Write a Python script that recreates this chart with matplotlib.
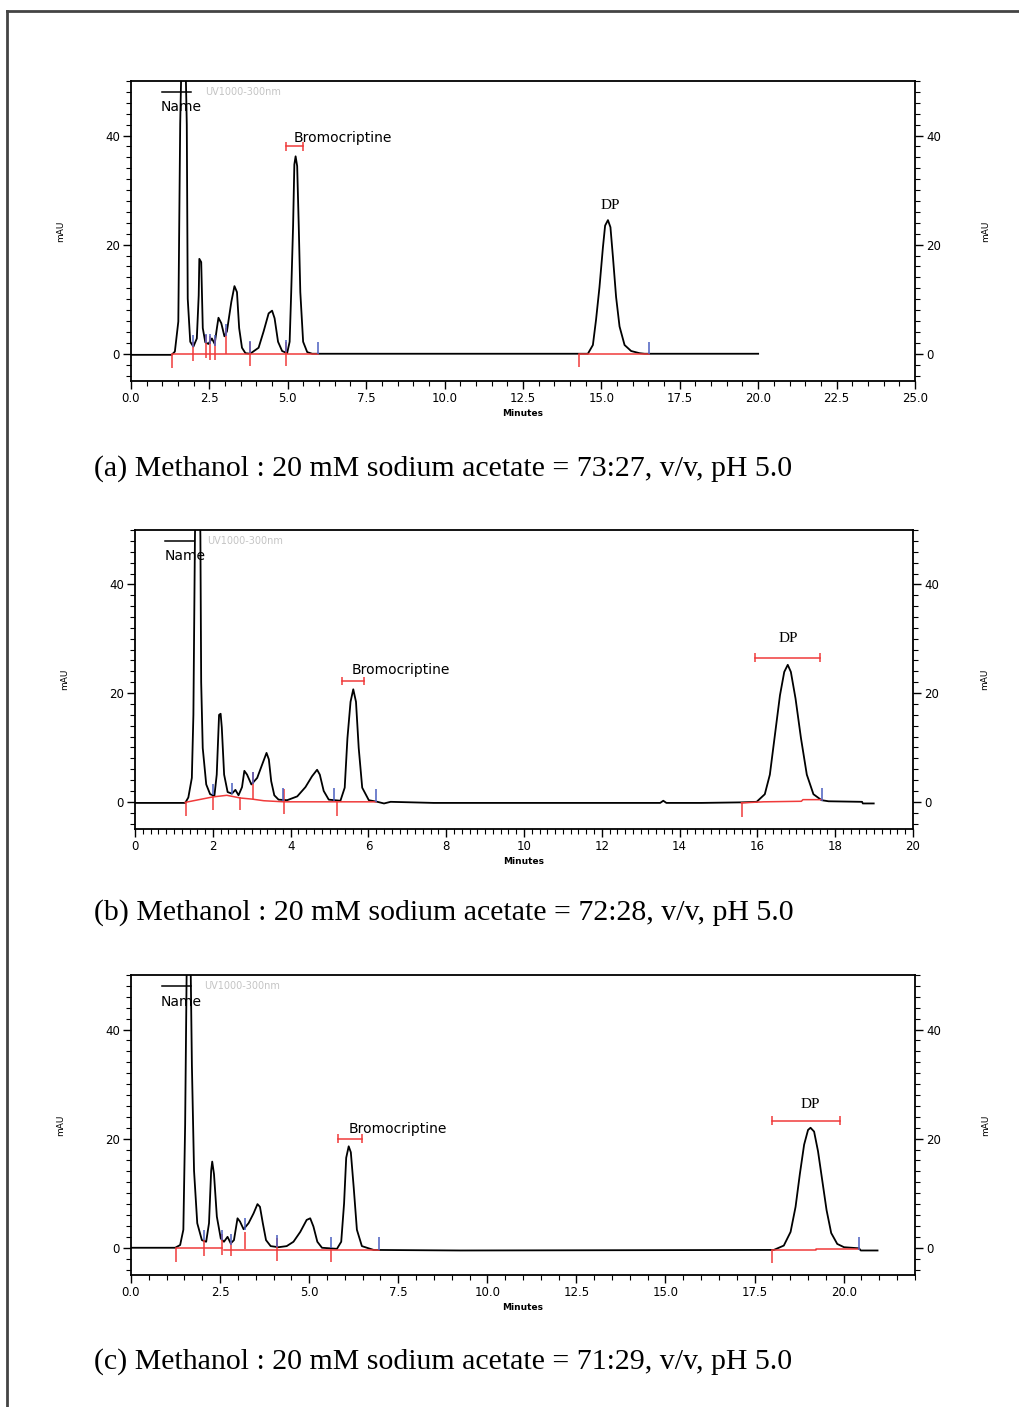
import matplotlib
matplotlib.use("Agg")
import matplotlib.pyplot as plt
from matplotlib.lines import Line2D
from matplotlib.ticker import MultipleLocator, FormatStrFormatter

# ---- (a) 73:27 ----
a_time = [0.0, 1.30, 1.40, 1.51, 1.57, 1.60, 1.65, 1.75, 1.78, 1.81, 1.89, 1.99, 2.10, 2.16,
          2.18, 2.24, 2.29, 2.37, 2.47, 2.58, 2.67, 2.74, 2.79, 2.88, 2.98, 3.06, 3.20,
          3.30, 3.38, 3.45, 3.54, 3.65, 3.80, 4.07, 4.23, 4.39, 4.50, 4.58, 4.69, 4.82,
          4.98, 5.06, 5.11, 5.17, 5.21, 5.25, 5.30, 5.35, 5.40, 5.49, 5.62, 5.78, 14.57,
          14.73, 14.83, 14.94, 15.05, 15.12, 15.21, 15.29, 15.37, 15.47, 15.58, 15.74,
          15.95, 16.22, 16.38, 20.0]
a_signal = [-0.2, -0.2, 0.4, 5.9, 42.2, 50.7, 75.0, 50.7, 42.0, 10.1, 2.2, 1.3, 2.8, 10.7,
            17.4, 16.8, 4.7, 2.1, 1.8, 2.8, 1.8, 4.7, 6.6, 5.6, 3.2, 4.1, 9.5,
            12.4, 11.3, 4.7, 1.1, 0.1, 0.0, 1.1, 4.1, 7.4, 7.9, 6.5, 2.2, 0.5,
            0.1, 2.2, 11.3, 23.5, 34.7, 36.2, 34.4, 23.5, 11.3, 2.2, 0.3, 0.0, 0.0,
            1.6, 6.2, 12.2, 19.5, 23.5, 24.5, 23.2, 17.7, 10.4, 5.0, 1.6,
            0.5, 0.1, 0.0, 0.0]
a_base = [[(1.32, 0.0), (5.97, 0.0)], [(14.29, 0.0), (16.51, 0.0)]]
a_red_t = [1.32, 1.99, 2.39, 2.53, 2.67, 3.02, 3.78, 4.95, 14.29]
a_red_top = [0.0, 2.2, 3.5, 3.2, 2.8, 4.7, 2.2, 2.2, 0.0]
a_red_bot = [-2.6, -1.4, -0.8, -1.1, -1.1, 0.0, -2.3, -2.3, -2.5]
a_blue_t = [1.99, 2.39, 2.53, 2.67, 3.02, 3.78, 4.95, 5.97, 16.51]
a_blue_bot = [1.3, 1.9, 1.7, 1.5, 3.2, 0.1, 0.4, 0.0, 0.0]
a_blue_top = [3.4, 3.7, 3.7, 3.4, 5.5, 2.4, 2.5, 2.2, 2.2]

# ---- (b) 72:28 ----
b_time = [0.0, 1.29, 1.37, 1.46, 1.50, 1.54, 1.61, 1.68, 1.70, 1.74, 1.83, 1.93, 2.04, 2.10,
          2.16, 2.20, 2.23, 2.29, 2.38, 2.49, 2.58, 2.66, 2.75, 2.81, 2.88, 2.99, 3.14,
          3.27, 3.38, 3.44, 3.50, 3.58, 3.69, 3.91, 4.17, 4.38, 4.55, 4.68, 4.75, 4.85,
          4.98, 5.28, 5.39, 5.46, 5.54, 5.61, 5.68, 5.75, 5.84, 6.01, 6.23, 6.40, 6.57,
          7.68, 13.50, 13.58, 13.66, 14.56, 15.59, 15.98, 16.19, 16.32, 16.45, 16.58,
          16.69, 16.78, 16.86, 16.98, 17.12, 17.27, 17.44, 17.65, 17.83, 18.69, 18.71, 18.99]
b_signal = [-0.2, -0.2, 0.8, 4.4, 16.0, 48.8, 80.0, 48.8, 22.0, 9.9, 3.2, 1.4, 1.1, 5.0,
            16.0, 16.2, 13.7, 5.0, 1.8, 1.5, 2.2, 1.2, 2.7, 5.7, 5.0, 3.2, 4.4,
            6.9, 9.0, 7.8, 3.8, 1.2, 0.4, 0.3, 1.0, 2.7, 4.7, 5.9, 5.0, 2.0,
            0.4, 0.2, 2.6, 11.7, 18.4, 20.7, 18.4, 9.9, 2.6, 0.3, 0.0, -0.3, 0.0,
            -0.2, -0.2, 0.2, -0.2, -0.2, -0.1, 0.0, 1.4, 5.0, 12.3, 19.6,
            23.9, 25.2, 23.9, 19.0, 11.7, 5.0, 1.4, 0.3, 0.1, 0.0, -0.3, -0.3]
b_base = [[(1.29, -0.1), (2.00, 0.9), (2.36, 1.2), (2.71, 0.7), (3.01, 0.5), (3.31, 0.2),
           (3.82, 0.0), (6.19, 0.0)],
          [(15.59, -0.2), (16.15, 0.0), (17.13, 0.1), (17.17, 0.4), (17.66, 0.4)]]
b_red_t = [1.30, 2.00, 2.71, 3.02, 3.82, 5.20, 15.60]
b_red_top = [-0.1, 1.1, 0.8, 5.5, 2.3, -0.1, -0.1]
b_red_bot = [-2.6, -1.5, -1.5, 0.5, -2.2, -2.6, -2.7]
b_blue_t = [2.00, 2.48, 3.02, 3.80, 5.11, 6.19, 17.66]
b_blue_bot = [1.2, 1.4, 3.2, 0.2, 0.2, -0.1, 0.2]
b_blue_top = [3.2, 3.5, 5.5, 2.6, 2.6, 2.3, 2.5]

# ---- (c) 71:29 ----
c_time = [0.0, 1.24, 1.38, 1.47, 1.52, 1.56, 1.62, 1.68, 1.71, 1.77, 1.86, 1.99, 2.11, 2.19,
          2.25, 2.28, 2.33, 2.41, 2.52, 2.61, 2.71, 2.80, 2.89, 2.99, 3.06, 3.16, 3.30,
          3.44, 3.55, 3.62, 3.70, 3.79, 3.92, 4.14, 4.37, 4.56, 4.75, 4.93, 5.03, 5.12,
          5.23, 5.36, 5.78, 5.90, 5.98, 6.04, 6.11, 6.17, 6.25, 6.34, 6.48, 6.81, 9.25,
          18.04, 18.32, 18.51, 18.65, 18.77, 18.89, 19.00, 19.07, 19.17, 19.28, 19.40,
          19.52, 19.65, 19.82, 20.01, 20.43, 20.48, 20.95]
c_signal = [0.0, 0.0, 0.5, 3.3, 22.5, 49.0, 80.0, 49.0, 33.4, 14.1, 4.5, 1.4, 1.1, 4.5,
            14.1, 15.8, 13.5, 5.7, 1.7, 1.1, 2.0, 0.8, 1.4, 5.4, 4.8, 3.4, 4.5,
            6.3, 8.0, 7.5, 4.5, 1.4, 0.3, 0.1, 0.3, 1.1, 2.9, 5.1, 5.4, 3.9,
            1.1, 0.0, -0.2, 1.1, 8.1, 16.5, 18.6, 17.5, 11.1, 3.3, 0.3, -0.4, -0.5,
            -0.4, 0.4, 2.9, 7.5, 13.5, 18.9, 21.6, 22.0, 21.3, 17.7, 12.3,
            6.9, 2.7, 0.7, 0.1, -0.1, -0.5, -0.5]
c_base = [[(1.25, 0.0), (2.56, 0.0)], [(2.62, -0.4), (6.95, -0.4)],
          [(18.0, -0.5), (19.22, -0.5), (19.22, -0.2), (20.43, -0.2)]]
c_red_t = [1.25, 2.05, 2.56, 2.81, 3.20, 4.10, 5.62, 18.0]
c_red_top = [0.0, 1.4, 2.6, 1.1, 2.9, 1.7, -0.3, -0.5]
c_red_bot = [-2.7, -1.5, -1.3, -1.6, -0.3, -2.4, -2.7, -2.8]
c_blue_t = [2.05, 2.56, 2.81, 3.20, 4.10, 5.62, 6.95, 20.43]
c_blue_bot = [1.4, 1.4, 0.5, 3.3, 0.2, -0.1, -0.4, -0.4]
c_blue_top = [3.2, 3.2, 2.6, 5.4, 2.3, 2.0, 2.0, 2.0]

captions = ["(a) Methanol : 20 mM sodium acetate = 73:27, v/v, pH 5.0",
            "(b) Methanol : 20 mM sodium acetate = 72:28, v/v, pH 5.0",
            "(c) Methanol : 20 mM sodium acetate = 71:29, v/v, pH 5.0"]

RED = "#f03a3a"
BLUE = "#4a5fc0"

fig = plt.figure(figsize=(10.2, 14.07), dpi=100)

# outer frame (left and top edges only visible)
fig.add_artist(Line2D([0.0069, 0.0069], [0.0, 0.9922], color="#444444", lw=2.0))
fig.add_artist(Line2D([0.0069, 1.0], [0.9922, 0.9922], color="#444444", lw=2.0))


def chromatogram(rect, xmax, xmajor, xminor, xfmt, time, signal, base,
                 red_t, red_top, red_bot, blue_t, blue_bot, blue_top,
                 name_pos, brom_pos, brom_bar, dp_pos, dp_bar, caption, cap_y):
    ax = fig.add_axes(rect)
    ax.plot(time, signal, color="black", lw=1.3, zorder=3)
    for seg in base:
        ax.plot([p[0] for p in seg], [p[1] for p in seg], color=RED, lw=1.1, zorder=4)
    ax.vlines(red_t, red_bot, red_top, color=RED, lw=1.1, zorder=4)
    ax.vlines(blue_t, blue_bot, blue_top, color=BLUE, lw=1.1, zorder=4)

    ax.set_xlim(0, xmax)
    ax.set_ylim(-5, 50)
    ax.xaxis.set_major_locator(MultipleLocator(xmajor))
    ax.xaxis.set_minor_locator(MultipleLocator(xminor))
    ax.xaxis.set_major_formatter(FormatStrFormatter(xfmt))
    ax.yaxis.set_major_locator(MultipleLocator(20))
    ax.yaxis.set_minor_locator(MultipleLocator(2))
    ax.tick_params(axis="both", which="major", length=6, width=1.0, labelsize=8.5, pad=2)
    ax.tick_params(axis="both", which="minor", length=3.5, width=0.8)
    ax.tick_params(axis="y", which="both", left=True, right=True, labelleft=True, labelright=True)
    ax.tick_params(axis="x", which="both", top=False)
    for s in ax.spines.values():
        s.set_linewidth(1.3)

    ax.set_xlabel("Minutes", fontsize=6.5, fontweight="bold", labelpad=3)
    ax.set_ylabel("mAU", fontsize=6.5, labelpad=29)
    ax2 = ax.secondary_yaxis("right")
    ax2.set_yticks([])
    ax2.spines["right"].set_visible(False)
    ax2.set_ylabel("mAU", fontsize=6.5, labelpad=48)

    # header items
    ax.plot([name_pos[0], name_pos[0] + name_pos[2]], [48, 48], color="black", lw=1.1, zorder=5)
    ax.text(name_pos[0] - 0.02, name_pos[1], "Name", fontsize=10, va="center", ha="left", zorder=6)
    ax.text(name_pos[3], 48, "UV1000-300nm", fontsize=7, color="#c4c4c4", va="center", ha="left")

    ax.text(brom_pos[0], brom_pos[1], "Bromocriptine", fontsize=10, va="center", ha="left")
    ax.plot([brom_bar[0], brom_bar[1]], [brom_bar[2], brom_bar[2]], color=RED, lw=1.1)
    ax.vlines([brom_bar[0], brom_bar[1]], brom_bar[2] - 0.8, brom_bar[2] + 0.8, color=RED, lw=1.1)

    ax.text(dp_pos[0], dp_pos[1], "DP", fontsize=11, family="Liberation Serif",
            va="center", ha="center")
    if dp_bar is not None:
        ax.plot([dp_bar[0], dp_bar[1]], [dp_bar[2], dp_bar[2]], color=RED, lw=1.1)
        ax.vlines([dp_bar[0], dp_bar[1]], dp_bar[2] - 0.8, dp_bar[2] + 0.8, color=RED, lw=1.1)

    fig.text(0.0922, cap_y, caption, fontsize=21.5, family="Liberation Serif",
             va="center", ha="left")
    return ax


chromatogram([0.1284, 0.7292, 0.7686, 0.2132], 25, 2.5, 0.5, "%.1f",
             a_time, a_signal, a_base, a_red_t, a_red_top, a_red_bot,
             a_blue_t, a_blue_bot, a_blue_top,
             (0.98, 45.3, 0.95, 2.37), (5.18, 39.5), (4.95, 5.49, 38.0),
             (15.3, 27.1), None, captions[0], 0.6667)

chromatogram([0.1324, 0.4108, 0.7627, 0.2125], 20, 2, 0.2, "%d",
             b_time, b_signal, b_base, b_red_t, b_red_top, b_red_bot,
             b_blue_t, b_blue_bot, b_blue_top,
             (0.77, 45.2, 0.75, 1.86), (5.58, 24.2), (5.33, 5.88, 22.2),
             (16.8, 30.0), (15.94, 17.61, 26.5), captions[1], 0.3511)

chromatogram([0.1284, 0.0938, 0.7686, 0.2132], 22, 2.5, 0.5, "%.1f",
             c_time, c_signal, c_base, c_red_t, c_red_top, c_red_bot,
             c_blue_t, c_blue_bot, c_blue_top,
             (0.86, 45.0, 0.82, 2.05), (6.10, 21.8), (5.82, 6.48, 20.0),
             (19.05, 26.2), (18.0, 19.89, 23.3), captions[2], 0.0320)

fig.savefig("out.png", dpi=100)
